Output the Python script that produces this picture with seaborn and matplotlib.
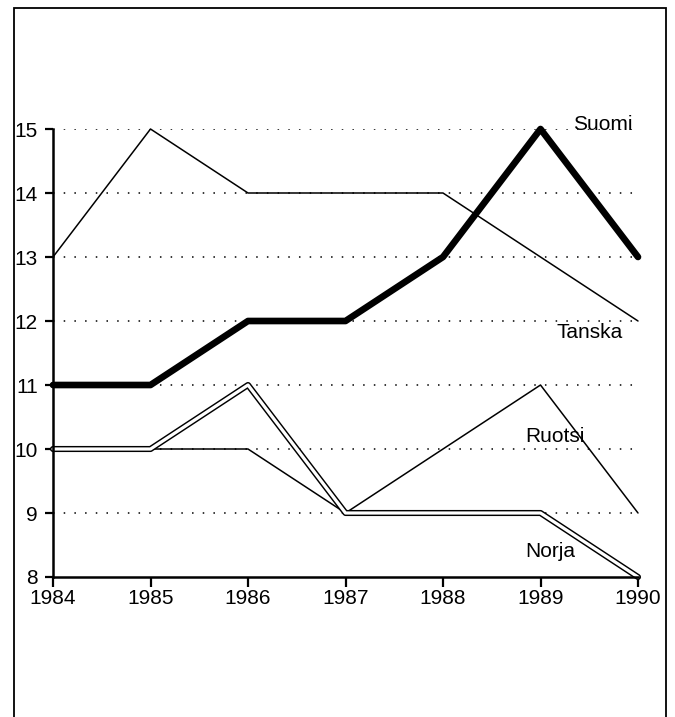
import matplotlib
matplotlib.use("Agg")
import matplotlib.pyplot as plt
import pandas as pd
import seaborn as sns
from matplotlib.patches import Rectangle

# data
years = [1984, 1985, 1986, 1987, 1988, 1989, 1990]
suomi = [11, 11, 12, 12, 13, 15, 13]
tanska = [13, 15, 14, 14, 14, 13, 12]
ruotsi = [10, 10, 10, 9, 10, 11, 9]
norja = [10, 10, 11, 9, 9, 9, 8]
y_ticks = [8, 9, 10, 11, 12, 13, 14, 15]

df = pd.DataFrame({"vuosi": years, "Suomi": suomi, "Tanska": tanska,
                   "Ruotsi": ruotsi, "Norja": norja})

sns.set_theme(style="ticks")
plt.rcParams["font.family"] = ["Liberation Sans", "DejaVu Sans"]

W, H = 675, 717
fig = plt.figure(figsize=(W / 100, H / 100), dpi=100)
x0, x1 = 53, 638
y_top, y_bot = 129, 577
ax = fig.add_axes([x0 / W, 1 - y_bot / H, (x1 - x0) / W, (y_bot - y_top) / H])

# dotted grid lines
ax.hlines(y_ticks[1:], years[0], years[-1], colors="black",
          linestyles=(0, (1, 6)), linewidth=1.1, zorder=1)

sns.lineplot(data=df, x="vuosi", y="Tanska", ax=ax, color="black",
             linewidth=1.1, clip_on=False, zorder=3)
sns.lineplot(data=df, x="vuosi", y="Ruotsi", ax=ax, color="black",
             linewidth=1.1, clip_on=False, zorder=3)
# double line for Norja: thick black with white core
sns.lineplot(data=df, x="vuosi", y="Norja", ax=ax, color="black",
             linewidth=4.4, clip_on=False, zorder=4)
sns.lineplot(data=df, x="vuosi", y="Norja", ax=ax, color="white",
             linewidth=2.3, clip_on=False, zorder=5)
sns.lineplot(data=df, x="vuosi", y="Suomi", ax=ax, color="black",
             linewidth=4.8, clip_on=False, zorder=6)

ax.set_xlim(years[0], years[-1])
ax.set_ylim(y_ticks[0], y_ticks[-1])
ax.set_xticks(years)
ax.set_yticks(y_ticks)
ax.set_xlabel("")
ax.set_ylabel("")
ax.tick_params(axis="both", colors="black", labelsize=15, width=1.6,
               direction="out")
ax.tick_params(axis="x", length=7, pad=2)
ax.tick_params(axis="y", length=6, pad=5)
sns.despine(ax=ax)
for side in ["left", "bottom"]:
    ax.spines[side].set_linewidth(1.8)
    ax.spines[side].set_color("black")
    ax.spines[side].set_zorder(7)
ax.set_facecolor("none")

# series names
lab = dict(fontsize=15, color="black", ha="center", va="center")
ax.text(1989.64, 15.07, "Suomi", **lab)
ax.text(1989.5, 11.82, "Tanska", **lab)
ax.text(1989.15, 10.2, "Ruotsi", **lab)
ax.text(1989.1, 8.4, "Norja", **lab)

# page frame
fig.patches.append(Rectangle((14 / W, -0.05), (666 - 14) / W, 1.05 - 8 / H,
                             transform=fig.transFigure, fill=False,
                             edgecolor="black", linewidth=1.3))

fig.savefig("out.png", dpi=100)
